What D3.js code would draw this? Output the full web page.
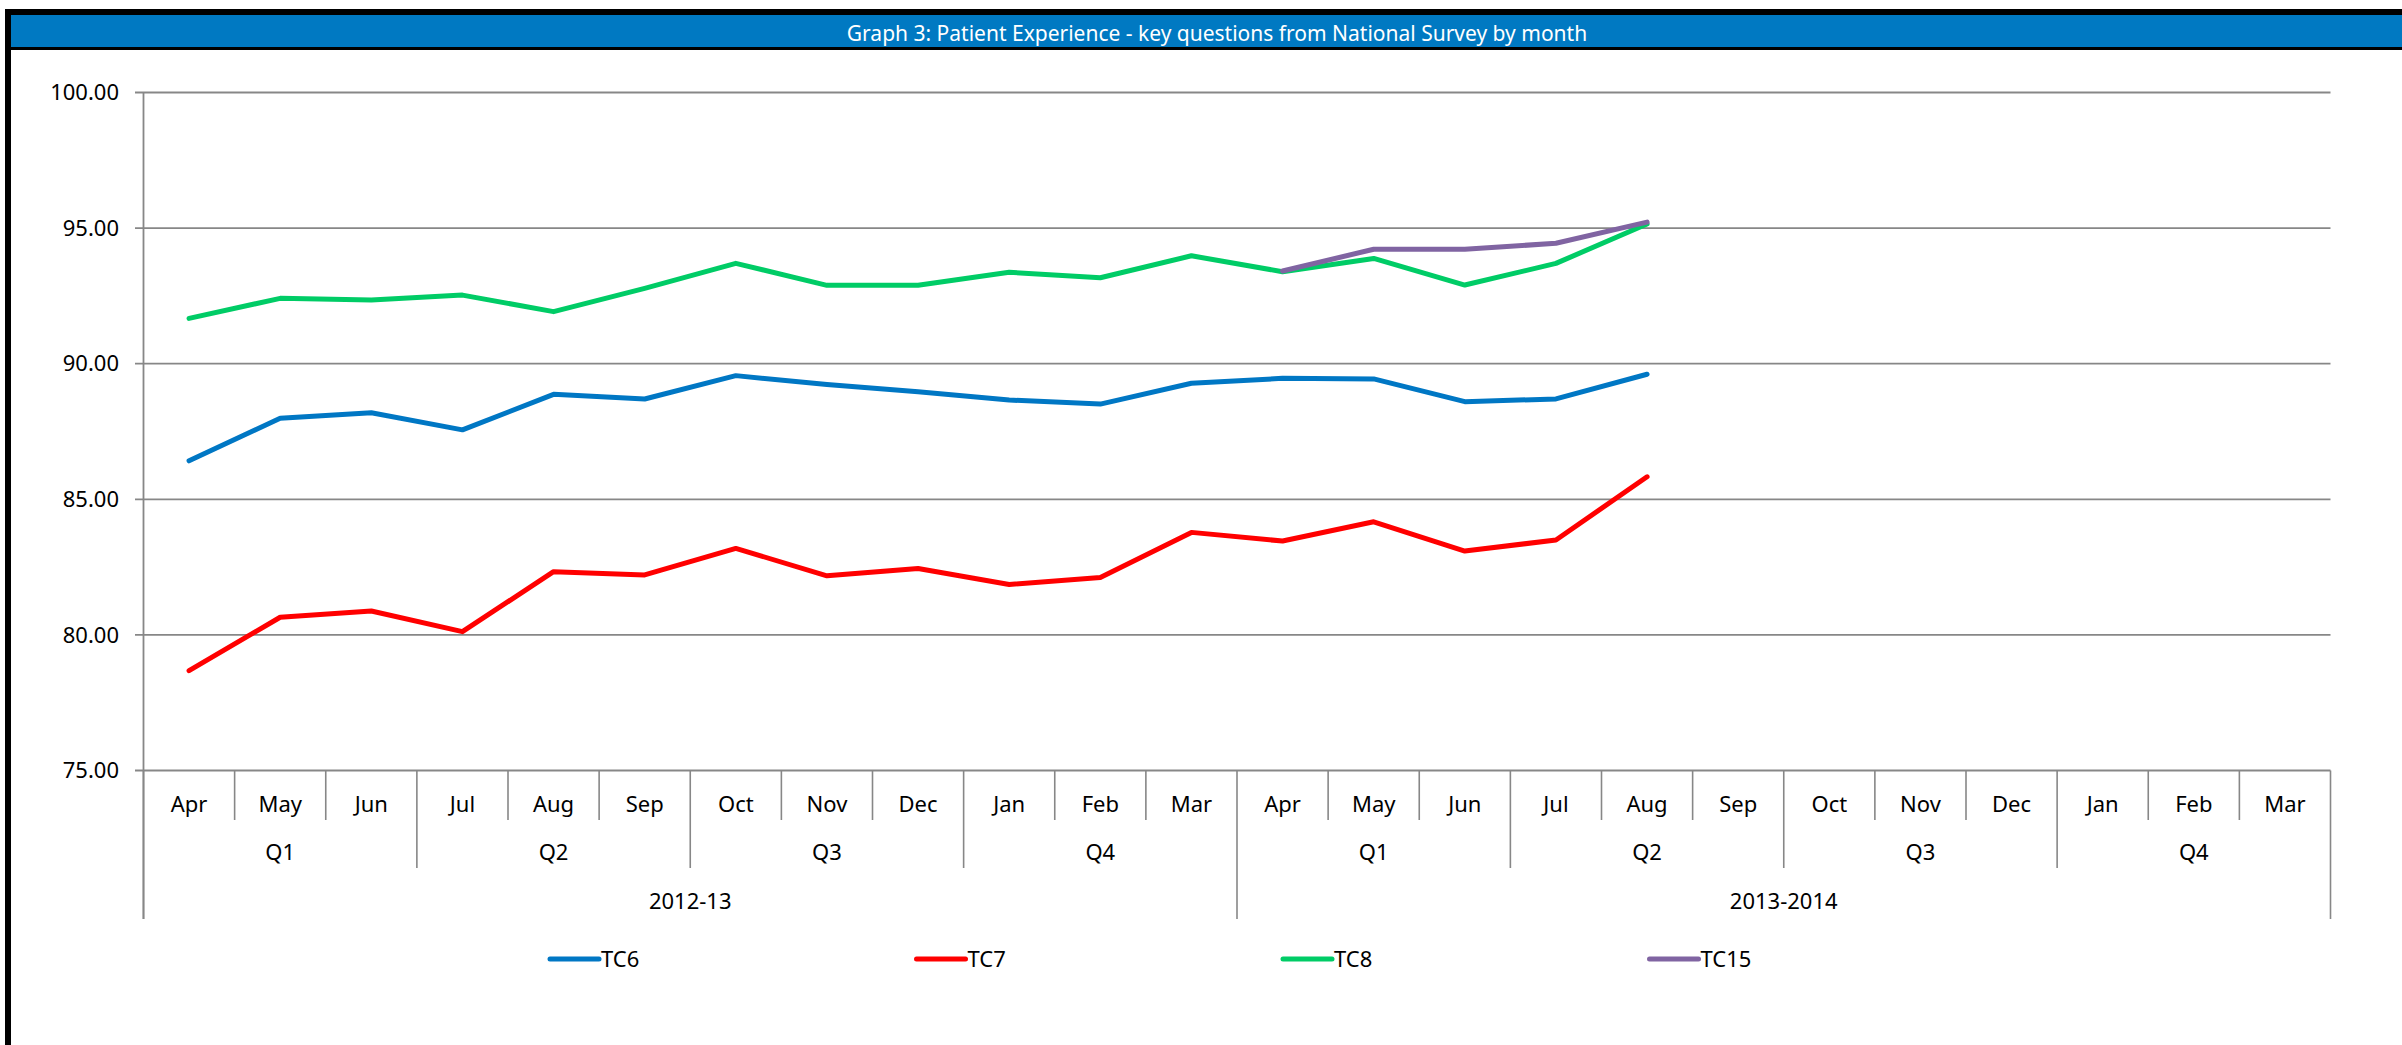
<!DOCTYPE html>
<html>
<head>
<meta charset="utf-8">
<script src="https://cdn.jsdelivr.net/npm/d3@7"></script>
<style>
  html, body { margin: 0; padding: 0; background: #ffffff; }
  svg { display: block; }
  text { font-family: "Noto Sans", "Open Sans", sans-serif; }
</style>
</head>
<body>
<svg id="chart" width="2402" height="1045"></svg>
<script>
const titleText = "Graph 3: Patient Experience - key questions from National Survey by month";
const months = ["Apr","May","Jun","Jul","Aug","Sep","Oct","Nov","Dec","Jan","Feb","Mar",
                "Apr","May","Jun","Jul","Aug","Sep","Oct","Nov","Dec","Jan","Feb","Mar"];
const quarters = ["Q1","Q2","Q3","Q4","Q1","Q2","Q3","Q4"];
const years = ["2012-13","2013-2014"];
const yTicks = [75, 80, 85, 90, 95, 100];
const seriesNames = ["TC6","TC7","TC8","TC15"];
const seriesColors = ["#0077C4","#FF0000","#00CC66","#8064A2"];
const tc6  = [86.42, 87.99, 88.19, 87.56, 88.87, 88.70, 89.56, 89.23, 88.97, 88.66, 88.51, 89.28,
              89.46, 89.44, 88.60, 88.70, 89.61];
const tc7  = [78.68, 80.65, 80.88, 80.12, 82.33, 82.21, 83.19, 82.18, 82.45, 81.86, 82.12, 83.78,
              83.46, 84.17, 83.09, 83.50, 85.83];
const tc8  = [91.67, 92.41, 92.35, 92.53, 91.92, 92.78, 93.70, 92.89, 92.89, 93.37, 93.17, 93.98,
              93.39, 93.88, 92.90, 93.70, 95.15];
const tc15 = [null, null, null, null, null, null, null, null, null, null, null, null,
              93.42, 94.22, 94.22, 94.44, 95.22];
const seriesData = [tc6, tc7, tc8, tc15];

const svg = d3.select("#chart");
const W = 2402, H = 1045;
const gridColor = "#878787";

// frame + title bar
svg.append("rect").attr("x", 5).attr("y", 9).attr("width", W - 5).attr("height", 41).attr("fill", "#000");
svg.append("rect").attr("x", 11).attr("y", 15).attr("width", W - 11).attr("height", 32).attr("fill", "#0079C2");
svg.append("rect").attr("x", 5).attr("y", 9).attr("width", 6).attr("height", H - 9).attr("fill", "#000");
svg.append("text").attr("x", 1217).attr("y", 40.5).attr("text-anchor", "middle")
  .attr("fill", "#fff").style("font-size", "21px").text(titleText);

const x = d3.scaleBand().domain(d3.range(months.length)).range([143.5, 2330.5]);
const y = d3.scaleLinear().domain([75, 100]).range([770.5, 92.5]);
const bw = x.bandwidth();

// gridlines
svg.append("g").selectAll("line").data(yTicks).join("line")
  .attr("x1", 135).attr("x2", 2330.5)
  .attr("y1", d => y(d)).attr("y2", d => y(d))
  .attr("stroke", gridColor).attr("stroke-width", 1.8);

// y labels
svg.append("g").selectAll("text").data(yTicks).join("text")
  .attr("x", 119).attr("y", d => y(d)).attr("dy", "0.35em")
  .attr("text-anchor", "end").attr("fill", "#000").style("font-size", "22px")
  .text(d => d.toFixed(2));

// y axis line
svg.append("line").attr("x1", 143.5).attr("x2", 143.5).attr("y1", y(100)).attr("y2", 919)
  .attr("stroke", gridColor).attr("stroke-width", 1.8);

// month separators
const bounds = d3.range(months.length + 1);
svg.append("g").selectAll("line").data(bounds).join("line")
  .attr("x1", i => i < months.length ? x(i) : x(months.length - 1) + bw)
  .attr("x2", i => i < months.length ? x(i) : x(months.length - 1) + bw)
  .attr("y1", y(75))
  .attr("y2", i => (i % 12 === 0) ? 919 : (i % 3 === 0 ? 868 : 820))
  .attr("stroke", gridColor).attr("stroke-width", 1.6);

// month labels
svg.append("g").selectAll("text").data(months).join("text")
  .attr("x", (d, i) => x(i) + bw / 2).attr("y", 811.5)
  .attr("text-anchor", "middle").attr("fill", "#000").style("font-size", "22px")
  .text(d => d);

// quarter labels
svg.append("g").selectAll("text").data(quarters).join("text")
  .attr("x", (d, i) => x(i * 3) + bw * 1.5).attr("y", 860)
  .attr("text-anchor", "middle").attr("fill", "#000").style("font-size", "22px")
  .text(d => d);

// year labels
svg.append("g").selectAll("text").data(years).join("text")
  .attr("x", (d, i) => x(i * 12) + bw * 6).attr("y", 909)
  .attr("text-anchor", "middle").attr("fill", "#000").style("font-size", "22px")
  .text(d => d);

// lines
const line = d3.line()
  .defined(d => d != null)
  .x((d, i) => x(i) + bw / 2)
  .y(d => y(d));

svg.append("g").selectAll("path").data(seriesData).join("path")
  .attr("d", d => line(d))
  .attr("fill", "none")
  .attr("stroke", (d, i) => seriesColors[i])
  .attr("stroke-width", 5)
  .attr("stroke-linejoin", "round")
  .attr("stroke-linecap", "round");

// legend
const legX = d3.scaleLinear().domain([0, 1]).range([548, 914.5]);
const leg = svg.append("g").selectAll("g").data(seriesNames).join("g")
  .attr("transform", (d, i) => `translate(${legX(i)},959)`);
leg.append("line").attr("x1", 2).attr("x2", 51).attr("y1", 0).attr("y2", 0)
  .attr("stroke", (d, i) => seriesColors[i]).attr("stroke-width", 5).attr("stroke-linecap", "round");
leg.append("text").attr("x", 53).attr("y", 0).attr("dy", "0.35em")
  .attr("fill", "#000").style("font-size", "22px").text(d => d);
</script>
</body>
</html>
